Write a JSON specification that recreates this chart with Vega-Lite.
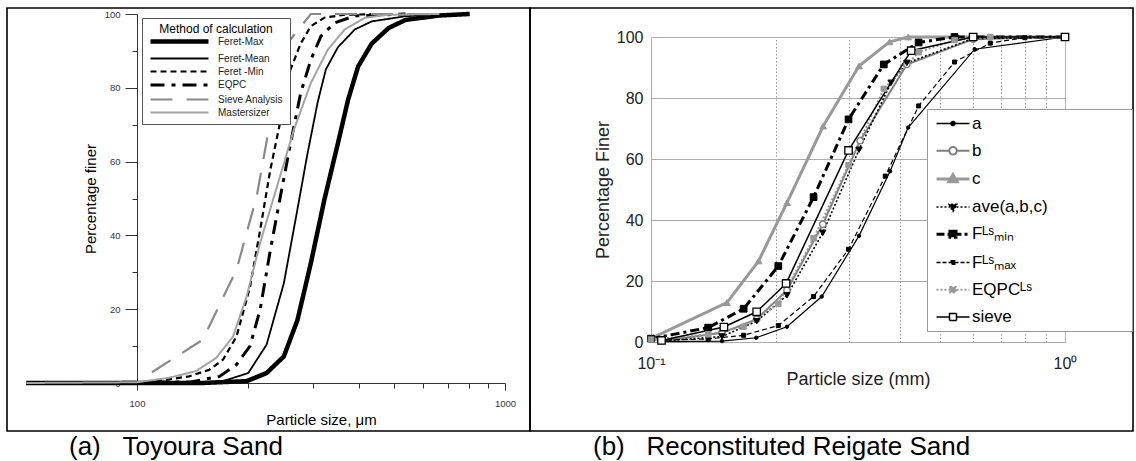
{
  "$schema": "https://vega.github.io/schema/vega-lite/v6.json",
  "padding": {"left": 6, "top": 4, "right": 2, "bottom": 0},
  "background": "white",
  "config": {
    "font": "Liberation Sans",
    "view": {"stroke": "black", "strokeWidth": 1.6}
  },
  "columns": 2,
  "spacing": 0,
  "bounds": "flush",
  "concat": [
    {
      "width": 523,
      "height": 423,
      "data": {"values": [
        {"m":"Feret-Max","d":50,"p":0},{"m":"Feret-Max","d":100,"p":0},{"m":"Feret-Max","d":150,"p":0},{"m":"Feret-Max","d":198.6,"p":0.5},{"m":"Feret-Max","d":225,"p":2.7},{"m":"Feret-Max","d":250.6,"p":7.2},{"m":"Feret-Max","d":272.8,"p":17},{"m":"Feret-Max","d":296.8,"p":32.5},{"m":"Feret-Max","d":323,"p":49.7},{"m":"Feret-Max","d":351.6,"p":65},{"m":"Feret-Max","d":374.7,"p":76.8},{"m":"Feret-Max","d":399,"p":85.8},{"m":"Feret-Max","d":434.5,"p":92},{"m":"Feret-Max","d":482.7,"p":96.2},{"m":"Feret-Max","d":536.9,"p":98.4},{"m":"Feret-Max","d":663.5,"p":99.6},{"m":"Feret-Max","d":802,"p":100},
        {"m":"Feret-Mean","d":50,"p":0},{"m":"Feret-Mean","d":150,"p":0},{"m":"Feret-Mean","d":171.2,"p":0.5},{"m":"Feret-Mean","d":200.6,"p":2.7},{"m":"Feret-Mean","d":225,"p":10.4},{"m":"Feret-Mean","d":250.6,"p":27},{"m":"Feret-Mean","d":272.8,"p":47},{"m":"Feret-Mean","d":290.4,"p":62},{"m":"Feret-Mean","d":309.6,"p":76},{"m":"Feret-Mean","d":326,"p":85},{"m":"Feret-Mean","d":351.6,"p":91},{"m":"Feret-Mean","d":390.6,"p":95.8},{"m":"Feret-Mean","d":434.5,"p":98},{"m":"Feret-Mean","d":536.9,"p":99.4},{"m":"Feret-Mean","d":706.7,"p":100},
        {"m":"Feret -Min","d":50,"p":0},{"m":"Feret -Min","d":110,"p":0.3},{"m":"Feret -Min","d":138.6,"p":1.8},{"m":"Feret -Min","d":157.3,"p":3.6},{"m":"Feret -Min","d":171.2,"p":6.3},{"m":"Feret -Min","d":186.4,"p":12.6},{"m":"Feret -Min","d":202.8,"p":26},{"m":"Feret -Min","d":216.1,"p":41.5},{"m":"Feret -Min","d":230.3,"p":57.8},{"m":"Feret -Min","d":245.3,"p":71},{"m":"Feret -Min","d":261.4,"p":85},{"m":"Feret -Min","d":278.5,"p":92},{"m":"Feret -Min","d":296.8,"p":96.7},{"m":"Feret -Min","d":323,"p":99},{"m":"Feret -Min","d":366.7,"p":99.8},{"m":"Feret -Min","d":482.7,"p":100},
        {"m":"EQPC","d":50,"p":0},{"m":"EQPC","d":140,"p":0.3},{"m":"EQPC","d":167.6,"p":1.8},{"m":"EQPC","d":186.4,"p":5},{"m":"EQPC","d":202.8,"p":10},{"m":"EQPC","d":216.1,"p":19.9},{"m":"EQPC","d":230.3,"p":36},{"m":"EQPC","d":245.3,"p":50.6},{"m":"EQPC","d":261.4,"p":65},{"m":"EQPC","d":278.5,"p":78.6},{"m":"EQPC","d":296.8,"p":87.6},{"m":"EQPC","d":316.2,"p":94},{"m":"EQPC","d":344.2,"p":97.6},{"m":"EQPC","d":390.6,"p":99.5},{"m":"EQPC","d":536.9,"p":100},
        {"m":"Sieve Analysis","d":109.8,"p":2.9},{"m":"Sieve Analysis","d":150.8,"p":11.7},{"m":"Sieve Analysis","d":186.4,"p":30.7},{"m":"Sieve Analysis","d":211.5,"p":50.6},{"m":"Sieve Analysis","d":235,"p":75.9},{"m":"Sieve Analysis","d":256,"p":92},{"m":"Sieve Analysis","d":296.8,"p":100},{"m":"Sieve Analysis","d":663.5,"p":100},
        {"m":"Mastersizer","d":50,"p":0},{"m":"Mastersizer","d":100,"p":0.2},{"m":"Mastersizer","d":122,"p":1.4},{"m":"Mastersizer","d":144.5,"p":3.2},{"m":"Mastersizer","d":164.1,"p":6.8},{"m":"Mastersizer","d":182.4,"p":12.6},{"m":"Mastersizer","d":198.6,"p":23.5},{"m":"Mastersizer","d":216.1,"p":38},{"m":"Mastersizer","d":240.2,"p":53.3},{"m":"Mastersizer","d":267,"p":68.7},{"m":"Mastersizer","d":296.8,"p":81.3},{"m":"Mastersizer","d":329.8,"p":90.3},{"m":"Mastersizer","d":366.7,"p":95.8},{"m":"Mastersizer","d":416.4,"p":99},{"m":"Mastersizer","d":482.7,"p":99.8},{"m":"Mastersizer","d":663.5,"p":100}
      ]},
      "mark": {"type": "line", "clip": false},
      "encoding": {
        "x": {
          "field": "d", "type": "quantitative",
          "scale": {"type": "log", "domain": [100, 1000], "range": [130, 498]},
          "axis": {
            "orient": "bottom", "offset": -48,
            "values": [100, 200, 300, 400, 500, 600, 700, 800, 900, 1000],
            "format": "d",
            "labelExpr": "datum.value == 100 || datum.value == 1000 ? datum.label : ''",
            "tickSize": {"condition": {"test": "datum.value == 100 || datum.value == 1000", "value": 7}, "value": 5},
            "tickColor": "#333", "domainColor": "#333",
            "labelFontSize": 9.5, "labelColor": "#333", "labelPadding": 8,
            "labelFlush": false, "labelOverlap": false, "grid": false,
            "title": "Particle size, μm", "titleFontSize": 15, "titleFontWeight": "normal",
            "titleColor": "black", "titlePadding": 5
          }
        },
        "y": {
          "field": "p", "type": "quantitative",
          "scale": {"domain": [0, 100], "range": [375, 6]},
          "axis": {
            "orient": "left", "offset": -130,
            "values": [0, 10, 20, 30, 40, 50, 60, 70, 80, 90, 100],
            "labelExpr": "datum.value % 20 == 0 ? datum.label : ''",
            "tickSize": {"condition": {"test": "datum.value % 20 == 0", "value": 12}, "value": 5},
            "tickColor": "#333", "domainColor": "#333",
            "labelFontSize": 9.5, "labelColor": "#333", "labelPadding": 5,
            "labelOverlap": false, "grid": false,
            "title": "Percentage finer", "titleFontSize": 15, "titleFontWeight": "normal",
            "titleColor": "black", "titlePadding": 6
          }
        },
        "color": {
          "field": "m", "type": "nominal",
          "scale": {
            "domain": ["Feret-Max", "Feret-Mean", "Feret -Min", "EQPC", "Sieve Analysis", "Mastersizer"],
            "range": ["black", "black", "black", "black", "#8a8a8a", "#a3a3a3"]
          },
          "legend": {
            "orient": "none", "legendX": 135, "legendY": 10, "direction": "vertical",
            "title": "Method of calculation", "titleFontSize": 12, "titleFontWeight": "normal",
            "titleColor": "black", "titleAnchor": "middle", "titlePadding": -2,
            "labelFontSize": 10, "labelColor": "#222", "labelOffset": 55,
            "symbolType": "M-1,0H10.6", "symbolSize": 100,
            "rowPadding": 1.5, "padding": 6,
            "strokeColor": "#555", "fillColor": "white"
          }
        },
        "strokeDash": {
          "field": "m", "type": "nominal",
          "scale": {
            "domain": ["Feret-Max", "Feret-Mean", "Feret -Min", "EQPC", "Sieve Analysis", "Mastersizer"],
            "range": [[1, 0], [1, 0], [6, 4], [14, 7, 4, 7], [22, 14], [1, 0]]
          },
          "legend": null
        },
        "strokeWidth": {
          "field": "m", "type": "nominal",
          "scale": {
            "type": "ordinal",
            "domain": ["Feret-Max", "Feret-Mean", "Feret -Min", "EQPC", "Sieve Analysis", "Mastersizer"],
            "range": [4.5, 1.8, 2.2, 3, 2.2, 2]
          },
          "legend": null
        }
      }
    },
    {
      "width": 603,
      "height": 423,
      "data": {"values": [
        {"s":"a","d":0.1053,"p":0.1},{"s":"a","d":0.1484,"p":0.3},{"s":"a","d":0.1796,"p":1.4},{"s":"a","d":0.213,"p":5},{"s":"a","d":0.2585,"p":14.9},{"s":"a","d":0.318,"p":34.8},{"s":"a","d":0.378,"p":56},{"s":"a","d":0.418,"p":70.3},{"s":"a","d":0.605,"p":96},{"s":"a","d":1,"p":100},
        {"s":"b","d":0.106,"p":0.3},{"s":"b","d":0.1484,"p":3},{"s":"b","d":0.18,"p":7.5},{"s":"b","d":0.213,"p":17},{"s":"b","d":0.26,"p":38.6},{"s":"b","d":0.32,"p":66},{"s":"b","d":0.415,"p":91},{"s":"b","d":0.6,"p":99.3},{"s":"b","d":1,"p":100},
        {"s":"c","d":0.1013,"p":1.5},{"s":"c","d":0.1526,"p":12.9},{"s":"c","d":0.182,"p":26.6},{"s":"c","d":0.2131,"p":45.7},{"s":"c","d":0.2606,"p":70.8},{"s":"c","d":0.318,"p":90.5},{"s":"c","d":0.377,"p":98.4},{"s":"c","d":0.418,"p":100},{"s":"c","d":1,"p":100},
        {"s":"ave","d":0.106,"p":0.3},{"s":"ave","d":0.1484,"p":1.8},{"s":"ave","d":0.18,"p":6.8},{"s":"ave","d":0.213,"p":15.3},{"s":"ave","d":0.26,"p":35.8},{"s":"ave","d":0.318,"p":63},{"s":"ave","d":0.38,"p":85},{"s":"ave","d":0.415,"p":91.5},{"s":"ave","d":0.6,"p":99.5},{"s":"ave","d":1,"p":100},
        {"s":"Fmin","d":0.1,"p":1.1},{"s":"Fmin","d":0.1374,"p":4.7},{"s":"Fmin","d":0.1674,"p":10.9},{"s":"Fmin","d":0.203,"p":24.9},{"s":"Fmin","d":0.247,"p":47.5},{"s":"Fmin","d":0.3,"p":73},{"s":"Fmin","d":0.365,"p":91},{"s":"Fmin","d":0.443,"p":98.2},{"s":"Fmin","d":0.541,"p":100},{"s":"Fmin","d":1,"p":100},
        {"s":"Fmax","d":0.1,"p":0.5},{"s":"Fmax","d":0.1374,"p":1},{"s":"Fmax","d":0.1674,"p":2.2},{"s":"Fmax","d":0.203,"p":5.4},{"s":"Fmax","d":0.247,"p":14.9},{"s":"Fmax","d":0.3,"p":30.4},{"s":"Fmax","d":0.368,"p":54.4},{"s":"Fmax","d":0.443,"p":77.4},{"s":"Fmax","d":0.541,"p":91.8},{"s":"Fmax","d":0.66,"p":98},{"s":"Fmax","d":0.8,"p":99.8},{"s":"Fmax","d":1,"p":100},
        {"s":"EQPC","d":0.1,"p":0.8},{"s":"EQPC","d":0.1374,"p":2.5},{"s":"EQPC","d":0.1674,"p":5},{"s":"EQPC","d":0.203,"p":12.5},{"s":"EQPC","d":0.247,"p":34},{"s":"EQPC","d":0.3,"p":58},{"s":"EQPC","d":0.365,"p":83},{"s":"EQPC","d":0.443,"p":95},{"s":"EQPC","d":0.541,"p":99},{"s":"EQPC","d":0.66,"p":100},{"s":"EQPC","d":1,"p":100},
        {"s":"sieve","d":0.106,"p":0.5},{"s":"sieve","d":0.15,"p":4.9},{"s":"sieve","d":0.18,"p":9.9},{"s":"sieve","d":0.212,"p":19.2},{"s":"sieve","d":0.3,"p":62.8},{"s":"sieve","d":0.425,"p":95.5},{"s":"sieve","d":0.6,"p":100},{"s":"sieve","d":1,"p":100}
      ]},
      "resolve": {"axis": {"x": "independent"}},
      "layer": [
        {
          "mark": {"type": "line", "opacity": 0},
          "encoding": {
            "x": {
              "field": "d", "type": "quantitative",
              "scale": {"type": "log", "domain": [0.1, 1], "range": [121, 535]},
              "axis": {
                "orient": "bottom", "offset": -89,
                "values": [0.1, 1],
                "labelExpr": "datum.value == 0.1 ? '10⁻¹' : '10⁰'",
                "ticks": false, "labelPadding": 13, "labelFontSize": 16, "labelColor": "#222",
                "labelFlush": false, "labelOverlap": false,
                "domainColor": "#aaa", "grid": false,
                "title": "Particle size (mm)", "titleFontSize": 18, "titleFontWeight": "normal",
                "titleColor": "#222", "titlePadding": -1
              }
            },
            "y": {
              "field": "p", "type": "quantitative",
              "scale": {"domain": [0, 100], "range": [334, 29]},
              "axis": {
                "orient": "left", "offset": -121,
                "values": [0, 20, 40, 60, 80, 100],
                "ticks": false, "labelPadding": 8, "labelFontSize": 16, "labelColor": "#222",
                "labelOverlap": false,
                "domainColor": "#aaa",
                "grid": true, "gridColor": "#aaa", "gridWidth": 1,
                "title": "Percentage Finer", "titleFontSize": 18, "titleFontWeight": "normal",
                "titleColor": "#222", "titlePadding": 4
              }
            },
            "stroke": {
              "field": "s", "type": "nominal",
              "scale": {
                "domain": ["a", "b", "c", "ave", "Fmin", "Fmax", "EQPC", "sieve"],
                "range": ["black", "#808080", "#999999", "black", "black", "black", "#999999", "black"]
              },
              "legend": {
                "orient": "none", "legendX": 920, "legendY": 101, "direction": "vertical",
                "title": "\u00a0", "titleOrient": "right", "titlePadding": 78,
                "labelFontSize": 17, "labelColor": "black", "labelOffset": 22,
                "labelExpr": "datum.value == 'ave' ? 'ave(a,b,c)' : datum.value == 'Fmin' ? 'Fᴸˢₘᵢₙ' : datum.value == 'Fmax' ? 'Fᴸˢₘₐₓ' : datum.value == 'EQPC' ? 'EQPCᴸˢ' : datum.label",
                "symbolSize": 100, "symbolOpacity": 1,
                "symbolType": {"expr": "datum.value == 'a' ? 'M-1,0H5.6M2.7,0A0.4,0.4,0,1,1,1.9,0A0.4,0.4,0,1,1,2.7,0Z' : datum.value == 'b' ? 'M-1,0H1.55M3.05,0H5.6M3.05,0A0.75,0.75,0,1,1,1.55,0A0.75,0.75,0,1,1,3.05,0Z' : datum.value == 'c' ? 'M-1,0H5.6M2.3,-0.85L3.1,0.55H1.5Z' : datum.value == 'ave' ? 'M-1,0H5.6M2.3,0.85L3.1,-0.55H1.5Z' : datum.value == 'Fmin' ? 'M-1,0H5.6M1.7,-0.6H2.9V0.6H1.7Z' : datum.value == 'Fmax' ? 'M-1,0H5.6M1.95,-0.35H2.65V0.35H1.95Z' : datum.value == 'EQPC' ? 'M-1,0H5.6M1.75,-0.55H2.85V0.55H1.75Z' : 'M-1,0H1.6M3,0H5.6M1.6,-0.7H3V0.7H1.6Z'"},
                "symbolFillColor": {"expr": "datum.value == 'b' || datum.value == 'sieve' ? 'white' : datum.value == 'c' || datum.value == 'EQPC' ? '#999999' : 'black'"},
                "symbolStrokeWidth": {"expr": "datum.value == 'c' || datum.value == 'Fmin' ? 3 : datum.value == 'b' || datum.value == 'EQPC' ? 2 : 1.5"},
                "symbolDash": {"expr": "datum.value == 'ave' || datum.value == 'EQPC' ? [2,2] : datum.value == 'Fmin' ? [8,3,3,3] : datum.value == 'Fmax' ? [4,2] : [1,0]"},
                "rowPadding": 9.2, "padding": 6,
                "strokeColor": "#999", "fillColor": "white"
              }
            }
          }
        },
        {
          "mark": {"type": "line", "stroke": "black", "strokeWidth": 1.2},
          "transform": [{"filter": "datum.s == 'a'"}],
          "encoding": {
            "x": {
              "field": "d", "type": "quantitative",
              "axis": {
                "orient": "top", "values": [0.2, 0.3, 0.4, 0.5, 0.6, 0.7, 0.8, 0.9, 1],
                "labels": false, "ticks": false, "domain": false, "title": null,
                "grid": true, "gridColor": "#999", "gridWidth": 1,
                "gridDash": {"condition": {"test": "datum.value == 1", "value": [1, 0]}, "value": [1.5, 2]}
              }
            },
            "y": {"field": "p", "type": "quantitative"}
          }
        },
        {
          "mark": {"type": "line", "stroke": "#808080", "strokeWidth": 2},
          "transform": [{"filter": "datum.s == 'b'"}],
          "encoding": {"x": {"field": "d", "type": "quantitative", "axis": null}, "y": {"field": "p", "type": "quantitative"}}
        },
        {
          "mark": {"type": "line", "stroke": "#999999", "strokeWidth": 3},
          "transform": [{"filter": "datum.s == 'c'"}],
          "encoding": {"x": {"field": "d", "type": "quantitative", "axis": null}, "y": {"field": "p", "type": "quantitative"}}
        },
        {
          "mark": {"type": "line", "stroke": "black", "strokeWidth": 1.6, "strokeDash": [2, 2]},
          "transform": [{"filter": "datum.s == 'ave'"}],
          "encoding": {"x": {"field": "d", "type": "quantitative", "axis": null}, "y": {"field": "p", "type": "quantitative"}}
        },
        {
          "mark": {"type": "line", "stroke": "black", "strokeWidth": 3, "strokeDash": [9, 4, 3, 4]},
          "transform": [{"filter": "datum.s == 'Fmin'"}],
          "encoding": {"x": {"field": "d", "type": "quantitative", "axis": null}, "y": {"field": "p", "type": "quantitative"}}
        },
        {
          "mark": {"type": "line", "stroke": "black", "strokeWidth": 1.2, "strokeDash": [5, 3]},
          "transform": [{"filter": "datum.s == 'Fmax'"}],
          "encoding": {"x": {"field": "d", "type": "quantitative", "axis": null}, "y": {"field": "p", "type": "quantitative"}}
        },
        {
          "mark": {"type": "line", "stroke": "#999999", "strokeWidth": 2, "strokeDash": [2, 2]},
          "transform": [{"filter": "datum.s == 'EQPC'"}],
          "encoding": {"x": {"field": "d", "type": "quantitative", "axis": null}, "y": {"field": "p", "type": "quantitative"}}
        },
        {
          "mark": {"type": "line", "stroke": "black", "strokeWidth": 1.5},
          "transform": [{"filter": "datum.s == 'sieve'"}],
          "encoding": {"x": {"field": "d", "type": "quantitative", "axis": null}, "y": {"field": "p", "type": "quantitative"}}
        },
        {
          "mark": {"type": "point", "shape": "circle", "size": 12, "filled": true, "fill": "black", "stroke": "black", "strokeWidth": 1, "opacity": 1},
          "transform": [{"filter": "datum.s == 'a'"}],
          "encoding": {"x": {"field": "d", "type": "quantitative", "axis": null}, "y": {"field": "p", "type": "quantitative"}}
        },
        {
          "mark": {"type": "point", "shape": "circle", "size": 40, "filled": true, "fill": "white", "stroke": "#808080", "strokeWidth": 1.5, "opacity": 1},
          "transform": [{"filter": "datum.s == 'b'"}],
          "encoding": {"x": {"field": "d", "type": "quantitative", "axis": null}, "y": {"field": "p", "type": "quantitative"}}
        },
        {
          "mark": {"type": "point", "shape": "triangle-up", "size": 45, "filled": true, "fill": "#999999", "stroke": "#999999", "strokeWidth": 1, "opacity": 1},
          "transform": [{"filter": "datum.s == 'c'"}],
          "encoding": {"x": {"field": "d", "type": "quantitative", "axis": null}, "y": {"field": "p", "type": "quantitative"}}
        },
        {
          "mark": {"type": "point", "shape": "triangle-down", "size": 40, "filled": true, "fill": "black", "stroke": "black", "strokeWidth": 1, "opacity": 1},
          "transform": [{"filter": "datum.s == 'ave'"}],
          "encoding": {"x": {"field": "d", "type": "quantitative", "axis": null}, "y": {"field": "p", "type": "quantitative"}}
        },
        {
          "mark": {"type": "point", "shape": "square", "size": 45, "filled": true, "fill": "black", "stroke": "black", "strokeWidth": 1, "opacity": 1},
          "transform": [{"filter": "datum.s == 'Fmin'"}],
          "encoding": {"x": {"field": "d", "type": "quantitative", "axis": null}, "y": {"field": "p", "type": "quantitative"}}
        },
        {
          "mark": {"type": "point", "shape": "square", "size": 16, "filled": true, "fill": "black", "stroke": "black", "strokeWidth": 1, "opacity": 1},
          "transform": [{"filter": "datum.s == 'Fmax'"}],
          "encoding": {"x": {"field": "d", "type": "quantitative", "axis": null}, "y": {"field": "p", "type": "quantitative"}}
        },
        {
          "mark": {"type": "point", "shape": "square", "size": 30, "filled": true, "fill": "#999999", "stroke": "#999999", "strokeWidth": 1, "opacity": 1},
          "transform": [{"filter": "datum.s == 'EQPC'"}],
          "encoding": {"x": {"field": "d", "type": "quantitative", "axis": null}, "y": {"field": "p", "type": "quantitative"}}
        },
        {
          "mark": {"type": "point", "shape": "square", "size": 55, "filled": true, "fill": "white", "stroke": "black", "strokeWidth": 1.3, "opacity": 1},
          "transform": [{"filter": "datum.s == 'sieve'"}],
          "encoding": {"x": {"field": "d", "type": "quantitative", "axis": null}, "y": {"field": "p", "type": "quantitative"}}
        }
      ]
    },
    {
      "width": 523,
      "height": 31,
      "data": {"values": [{"t": "(a)\u00a0\u00a0\u00a0Toyoura Sand"}]},
      "mark": {"type": "text", "align": "left", "baseline": "middle", "fontSize": 26, "font": "Liberation Sans", "color": "black", "x": 62, "y": 15.5},
      "encoding": {"text": {"field": "t", "type": "nominal"}}
    },
    {
      "width": 603,
      "height": 31,
      "data": {"values": [{"t": "(b)\u00a0\u00a0\u00a0Reconstituted Reigate Sand"}]},
      "mark": {"type": "text", "align": "left", "baseline": "middle", "fontSize": 26, "font": "Liberation Sans", "color": "black", "x": 63, "y": 15.5},
      "encoding": {"text": {"field": "t", "type": "nominal"}}
    }
  ]
}
